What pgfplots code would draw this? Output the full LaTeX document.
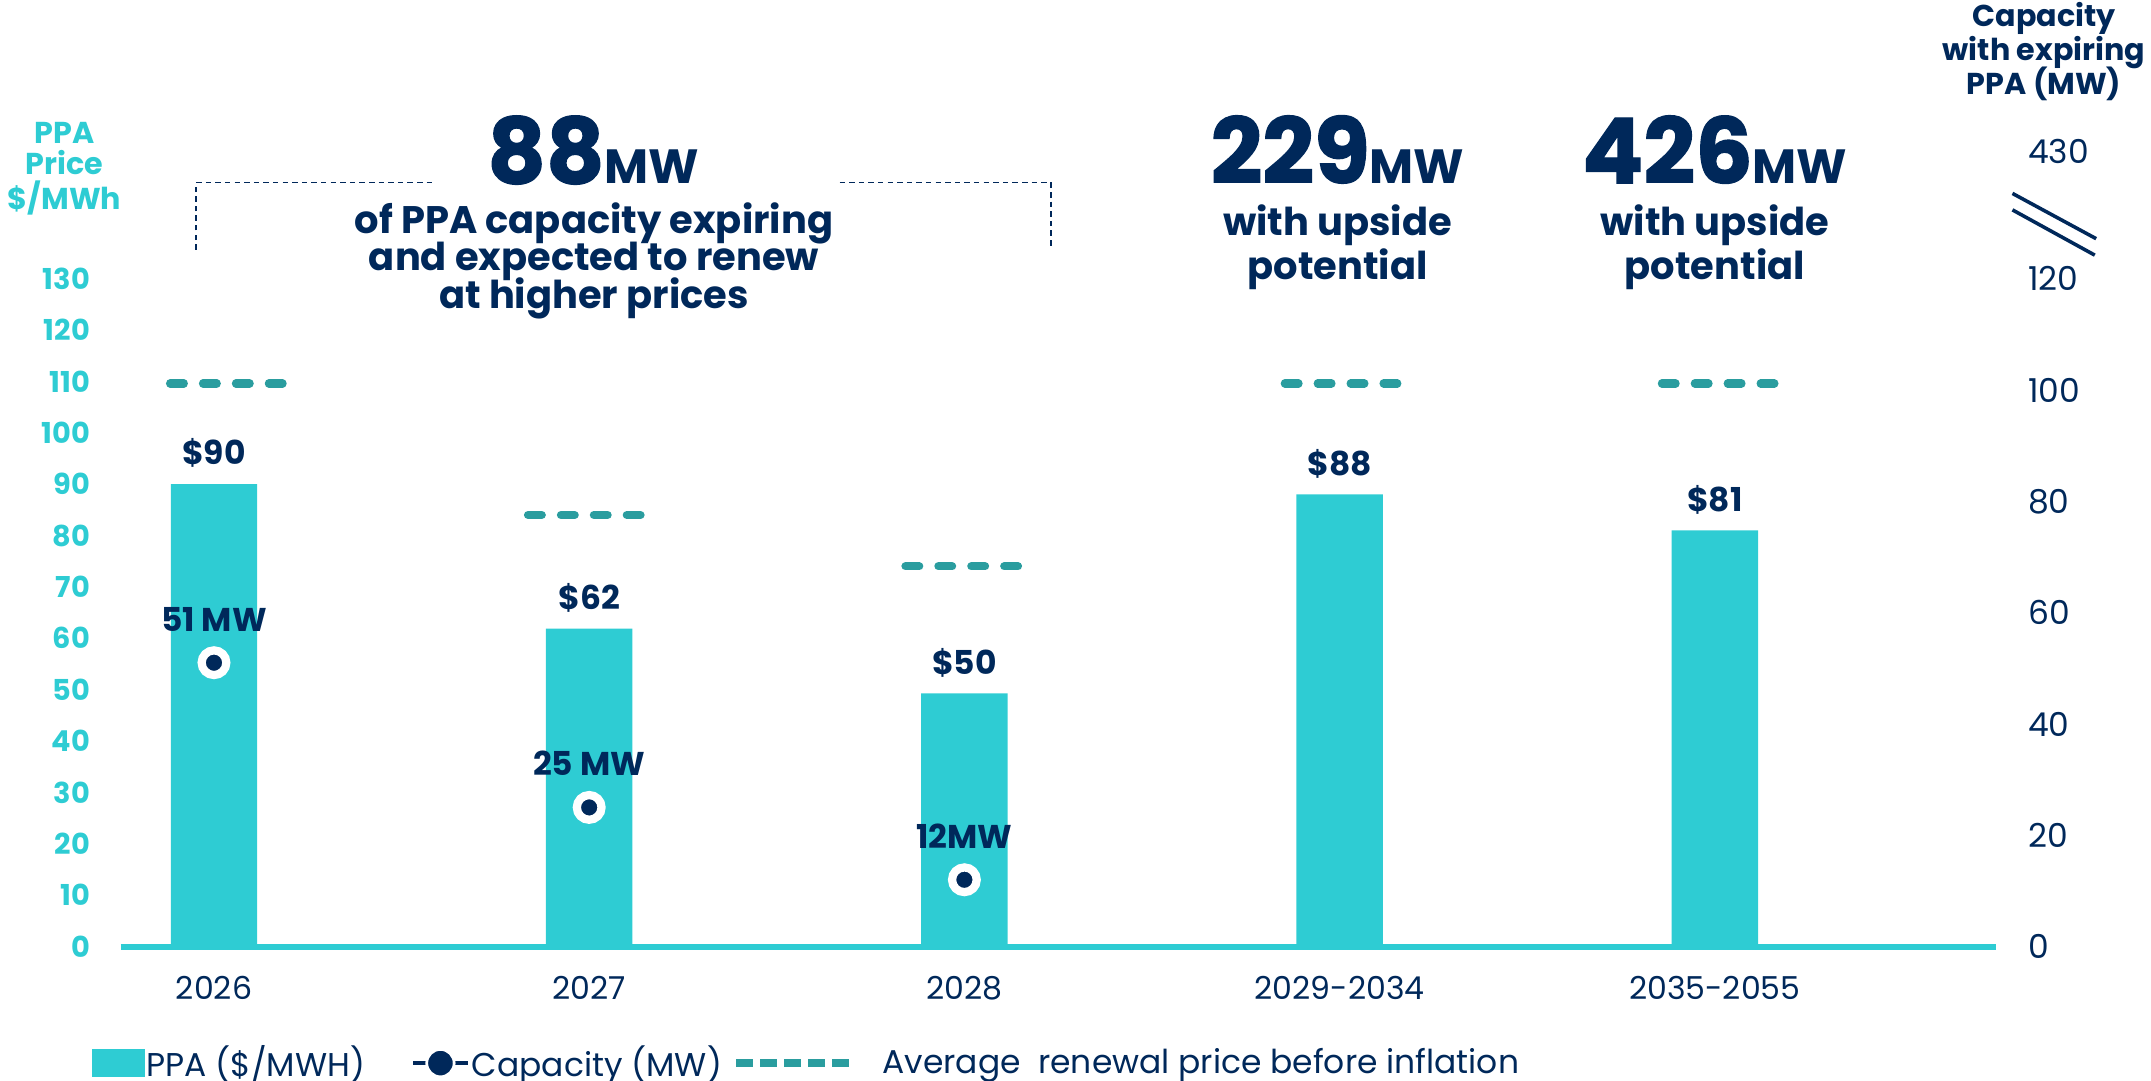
\documentclass[border=0pt]{standalone}
\usepackage{pgfplots}
\pgfplotsset{compat=1.18}
\usepackage{fontspec}
\setmainfont{Poppins}
\newfontfamily\heavy{Poppins}[BoldFeatures={FakeBold=1.5}]
\definecolor{cyanc}{HTML}{2ECCD3}
\definecolor{navy}{HTML}{00285A}
\definecolor{tealc}{HTML}{2A9D9F}
\begin{document}
\begin{tikzpicture}
\useasboundingbox (-44pt,-49pt) rectangle (740pt,345pt);
\begin{axis}[
  at={(0,0)}, anchor=south west,
  scale only axis, width=683.5pt, height=291pt,
  xmin=-0.2486, xmax=4.7495,
  ymin=0, ymax=155.4,
  axis x line*=bottom, axis y line*=left,
  x axis line style={color=cyanc, line width=2.2pt, -},
  y axis line style={draw=none},
  major tick length=0pt,
  /pgf/number format/assume math mode=true,
  xtick={0,1,2,3,4},
  xticklabels={2026,2027,2028,2029-2034,2035-2055},
  xticklabel style={font=\fontsize{11.5}{11.5}\selectfont, color=navy, anchor=north, inner sep=0pt, yshift=-10.5pt},
  ytick={0,10,...,130},
  yticklabels={0,10,20,30,40,50,60,70,80,90,100,110,120,130},
  yticklabel style={font=\fontsize{10.5}{10.5}\selectfont\bfseries, color=cyanc, anchor=east, inner sep=0pt, xshift=-11pt},
  clip=false,
  legend columns=-1,
  legend style={at={(-0.0154,-0.1460)}, anchor=west, draw=none, fill=none, inner sep=0pt,
    font=\fontsize{12}{12}\selectfont\color{navy}, nodes={inner sep=0.75pt}},
]
\addplot[ybar, bar width=31.5pt, fill=cyanc, draw=none,
  point meta=explicit symbolic, nodes near coords,
  every node near coord/.append style={anchor=base, inner sep=0pt, yshift=7pt, font=\fontsize{12}{12}\selectfont\bfseries, color=navy},
  legend image code/.code={\fill[cyanc] (0pt,-5pt) rectangle (19pt,5pt);}]
  coordinates {(0,90) [\$90] (1,61.9) [\$62] (2,49.3) [\$50] (3,88) [\$88] (4,81) [\$81]};
\addlegendentry{PPA (\$/MWH)\kern16pt}
\addlegendimage{legend image code/.code={\draw[navy, line width=1.5pt] (0pt,0pt) -- (20pt,0pt); \draw[white, fill=navy, line width=1pt] (10pt,0pt) circle (5pt);}}
\addlegendentry{Capacity (MW)\kern3pt}
\addplot[tealc, line width=3pt, line cap=round, dash pattern=on 5pt off 7pt, unbounded coords=jump,
  legend image code/.code={\draw[tealc, line width=3pt, line cap=butt, dash pattern=on 6pt off 2.75pt] (0pt,0pt) -- (41pt,0pt);}]
  coordinates {(-0.117,109.6) (0.183,109.6) (0.5,nan) (0.837,84) (1.137,84) (1.5,nan) (1.843,74) (2.143,74) (2.5,nan) (2.854,109.6) (3.154,109.6) (3.5,nan) (3.859,109.6) (4.159,109.6)};
\addlegendentry{\kern10pt Average\ \ renewal price before inflation}
\end{axis}
\begin{axis}[
  at={(0,0)}, anchor=south west,
  scale only axis, width=683.5pt, height=291pt,
  xmin=-0.2486, xmax=4.7495,
  ymin=0, ymax=143.45,
  hide x axis, axis y line*=right,
  y axis line style={draw=none},
  major tick length=0pt,
  ytick={0,20,40,60,80,100,120,142.9},
  yticklabels={0,20,40,60,80,100,120,430},
  yticklabel style={font=\fontsize{12}{12}\selectfont, color=navy, anchor=west, inner sep=0pt, xshift=11.5pt},
  clip=false,
]
\addplot[only marks, mark=*, mark size=4.5pt, mark options={fill=navy, draw=white, line width=3pt},
  point meta=explicit symbolic, nodes near coords,
  every node near coord/.append style={anchor=base, inner sep=0pt, yshift=11.5pt, font=\fontsize{12}{12}\selectfont\bfseries, color=navy}]
  coordinates {(0,51) [51 MW] (1,25) [25 MW] (2,12) [12MW]};
\end{axis}
% annotations
\node[anchor=base, inner sep=0pt, text=navy] at (172.25pt,278.25pt) {\raisebox{0pt}[\height][0pt]{{\fontsize{33}{33}\selectfont\heavy\bfseries 88}{\fontsize{17.5}{17.5}\selectfont\bfseries MW}}};
\node[anchor=base, inner sep=0pt, text=navy, font=\fontsize{14}{14}\selectfont\bfseries] at (172.5pt,260pt) {of PPA capacity expiring};
\node[anchor=base, inner sep=0pt, text=navy, font=\fontsize{14}{14}\selectfont\bfseries] at (172.5pt,246.25pt) {and expected to renew};
\node[anchor=base, inner sep=0pt, text=navy, font=\fontsize{14}{14}\selectfont\bfseries] at (172.5pt,232.5pt) {at higher prices};
\draw[navy, line width=0.6pt, dash pattern=on 2pt off 1.5pt] (27.5pt,254pt) -- (27.5pt,278.5pt) -- (115pt,278.5pt);
\draw[navy, line width=0.6pt, dash pattern=on 2pt off 1.5pt] (262pt,278.5pt) -- (339pt,278.5pt) -- (339pt,254pt);
\node[anchor=base, inner sep=0pt, text=navy] at (443.5pt,278.25pt) {\raisebox{0pt}[\height][0pt]{{\fontsize{33}{33}\selectfont\heavy\bfseries 229}{\fontsize{17.5}{17.5}\selectfont\bfseries MW}}};
\node[anchor=base, inner sep=0pt, text=navy, font=\fontsize{14}{14}\selectfont\bfseries] at (443.5pt,259pt) {with upside};
\node[anchor=base, inner sep=0pt, text=navy, font=\fontsize{14}{14}\selectfont\bfseries] at (443.5pt,243pt) {potential};
\node[anchor=base, inner sep=0pt, text=navy] at (581pt,278.25pt) {\raisebox{0pt}[\height][0pt]{{\fontsize{33}{33}\selectfont\heavy\bfseries 426}{\fontsize{17.5}{17.5}\selectfont\bfseries MW}}};
\node[anchor=base, inner sep=0pt, text=navy, font=\fontsize{14}{14}\selectfont\bfseries] at (581pt,259pt) {with upside};
\node[anchor=base, inner sep=0pt, text=navy, font=\fontsize{14}{14}\selectfont\bfseries] at (581pt,243pt) {potential};
% axis titles
\node[anchor=base, inner sep=0pt, text=cyanc, font=\fontsize{11}{11}\selectfont\bfseries] at (-20.5pt,292.85pt) {PPA};
\node[anchor=base, inner sep=0pt, text=cyanc, font=\fontsize{11}{11}\selectfont\bfseries] at (-20.5pt,281.4pt) {Price};
\node[anchor=base, inner sep=0pt, text=cyanc, font=\fontsize{11}{11}\selectfont\bfseries] at (-20.5pt,268.8pt) {\$/MWh};
\node[anchor=base, inner sep=0pt, text=navy, font=\fontsize{11}{11}\selectfont\bfseries] at (701pt,335.5pt) {Capacity};
\node[anchor=base, inner sep=0pt, text=navy, font=\fontsize{11}{11}\selectfont\bfseries] at (701pt,323pt) {with expiring};
\node[anchor=base, inner sep=0pt, text=navy, font=\fontsize{11}{11}\selectfont\bfseries] at (701pt,310.5pt) {PPA (MW)};
% axis break
\draw[navy, line width=1.3pt] (689.5pt,274.5pt) -- (720pt,258pt);
\draw[navy, line width=1.3pt] (689.5pt,268.5pt) -- (719.5pt,252pt);
\end{tikzpicture}
\end{document}
